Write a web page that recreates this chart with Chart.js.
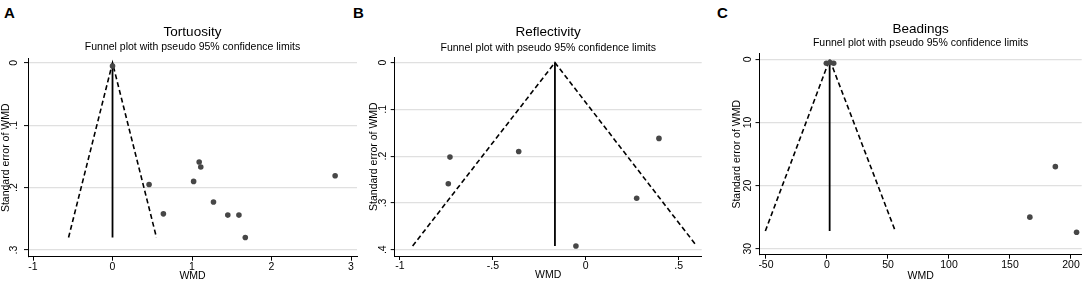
<!DOCTYPE html>
<html>
<head>
<meta charset="utf-8">
<script src="https://cdn.jsdelivr.net/npm/chart.js@4.4.1/dist/chart.umd.min.js"></script>
<style>
  body { margin: 0; width: 1084px; height: 281px; overflow: hidden; background: #fff; position: relative;
         font-family: "Liberation Sans", Arial, sans-serif; }
  .panel { position: absolute; top: 0; height: 281px; }
  .letter { position: absolute; top: 6px; font-weight: bold; font-size: 15px; line-height: 14px; color: #000; }
</style>
</head>
<body>
<div class="letter" style="left:4px">A</div>
<div class="letter" style="left:353px">B</div>
<div class="letter" style="left:717px">C</div>
<div class="panel" style="left:0;width:360px"><canvas id="chartA"></canvas></div>
<div class="panel" style="left:360px;width:360px"><canvas id="chartB"></canvas></div>
<div class="panel" style="left:720px;width:364px"><canvas id="chartC"></canvas></div>
<script>
// --- data ---
// Tortuosity
const tortWMD = [0, 0.46, 0.64, 1.09, 1.11, 1.02, 1.27, 1.45, 1.59, 1.67, 2.80];
const tortSE  = [0.005, 0.195, 0.242, 0.159, 0.167, 0.190, 0.223, 0.244, 0.244, 0.280, 0.181];
const tortFunnelWMD = [-0.553, 0, 0.553];
const tortFunnelSE  = [0.28, 0, 0.28];
const tortPooledWMD = [0, 0];
const tortPooledSE  = [0, 0.28];
const tortXTicks = [-1, 0, 1, 2, 3];
const tortXLabels = ['-1', '0', '1', '2', '3'];
const tortYTicks = [0, 0.1, 0.2, 0.3];
const tortYLabels = ['0', '.1', '.2', '.3'];

// Reflectivity
const reflWMD = [-0.731, -0.740, -0.361, 0.394, 0.274, -0.053];
const reflSE  = [0.202, 0.259, 0.190, 0.162, 0.290, 0.392];
const reflFunnelWMD = [-0.932, -0.166, 0.597];
const reflFunnelSE  = [0.392, 0, 0.392];
const reflPooledWMD = [-0.166, -0.166];
const reflPooledSE  = [0, 0.392];
const reflXTicks = [-1, -0.5, 0, 0.5];
const reflXLabels = ['-1', '-.5', '0', '.5'];
const reflYTicks = [0, 0.1, 0.2, 0.3, 0.4];
const reflYLabels = ['0', '.1', '.2', '.3', '.4'];

// Beadings
const beadWMD = [-0.5, 2.5, 5.5, 187.2, 166.3, 204.6];
const beadSE  = [0.6, 0.5, 0.6, 17.0, 25.0, 27.4];
const beadFunnelWMD = [-50.5, 2.2, 56.0];
const beadFunnelSE  = [27.2, 0, 27.2];
const beadPooledWMD = [2.2, 2.2];
const beadPooledSE  = [0, 27.2];
const beadXTicks = [-50, 0, 50, 100, 150, 200];
const beadXLabels = ['-50', '0', '50', '100', '150', '200'];
const beadYTicks = [0, 10, 20, 30];
const beadYLabels = ['0', '10', '20', '30'];

const subtitleText = 'Funnel plot with pseudo 95% confidence limits';

Chart.defaults.font.family = '"Liberation Sans", Arial, sans-serif';
Chart.defaults.color = '#000';

function pts(xs, ys) {
  return xs.map((x, i) => ({ x: x, y: ys[i] }));
}

function funnelChart(id, d, g) {
  return new Chart(document.getElementById(id), {
    type: 'scatter',
    data: {
      datasets: [
        { data: pts(d.wmd, d.se), backgroundColor: '#474747', borderWidth: 0, pointRadius: 2.8 },
        { data: pts(d.funnelWmd, d.funnelSe), showLine: true, borderColor: '#000', borderWidth: 1.6,
          borderDash: [5, 3], pointRadius: 0 },
        { data: pts(d.pooledWmd, d.pooledSe), showLine: true, borderColor: '#000', borderWidth: 1.8,
          pointRadius: 0 }
      ]
    },
    options: {
      responsive: true,
      maintainAspectRatio: false,
      animation: false,
      layout: { autoPadding: false, padding: { left: g.padLeft, right: g.padRight, top: 0, bottom: 0 } },
      plugins: {
        legend: { display: false },
        tooltip: { enabled: false },
        title: {
          display: true, text: d.title, fullSize: false, color: '#000',
          font: { size: 13.5, weight: 'normal' },
          padding: { top: g.titleTop, bottom: g.titleGap }
        },
        subtitle: {
          display: true, text: subtitleText, fullSize: false, color: '#000',
          font: { size: 10.5, weight: 'normal' },
          padding: { top: 0, bottom: g.subBottom }
        }
      },
      scales: {
        x: {
          type: 'linear', position: 'bottom', min: g.xMin, max: g.xMax,
          afterBuildTicks: s => { s.ticks = d.xTicks.map(v => ({ value: v })); },
          afterFit: s => { s.height = g.xHeight; },
          ticks: { font: { size: 10.5 }, padding: 0, maxRotation: 0, callback: (v, i) => d.xLabels[i] },
          grid: { drawOnChartArea: false, tickLength: 4, tickColor: '#000', tickWidth: 1 },
          border: { color: '#000', width: 1 },
          title: { display: true, text: 'WMD', font: { size: 10.5, lineHeight: 1 }, padding: { top: 0, bottom: g.xTitleBottom } }
        },
        y: {
          type: 'linear', position: 'left', reverse: true, min: g.yMin, max: g.yMax,
          afterBuildTicks: s => { s.ticks = d.yTicks.map(v => ({ value: v })); },
          afterFit: s => { s.width = g.yWidth; },
          ticks: { font: { size: 10.5 }, padding: g.yTickPad, minRotation: 90, maxRotation: 90, crossAlign: 'center',
                   callback: (v, i) => d.yLabels[i] },
          grid: { color: '#e0e0e0', lineWidth: 1.2, tickLength: 4, tickColor: '#000', tickWidth: 1 },
          border: { color: '#000', width: 1 },
          title: { display: true, text: 'Standard error of WMD', font: { size: 10.5, lineHeight: 1 }, padding: { top: 0.5, bottom: 0 } }
        }
      }
    }
  });
}

funnelChart('chartA', {
  title: 'Tortuosity', wmd: tortWMD, se: tortSE,
  funnelWmd: tortFunnelWMD, funnelSe: tortFunnelSE, pooledWmd: tortPooledWMD, pooledSe: tortPooledSE,
  xTicks: tortXTicks, xLabels: tortXLabels, yTicks: tortYTicks, yLabels: tortYLabels
}, {
  padLeft: 0, padRight: 3, yWidth: 28, xHeight: 24.3, yTickPad: 5.5, xTitleBottom: 0,
  titleTop: 24.2, titleGap: 0.9, subBottom: 5.0,
  xMin: -1.063, xMax: 3.075, yMin: -0.0064, yMax: 0.3107
});

funnelChart('chartB', {
  title: 'Reflectivity', wmd: reflWMD, se: reflSE,
  funnelWmd: reflFunnelWMD, funnelSe: reflFunnelSE, pooledWmd: reflPooledWMD, pooledSe: reflPooledSE,
  xTicks: reflXTicks, xLabels: reflXLabels, yTicks: reflYTicks, yLabels: reflYLabels
}, {
  padLeft: 8, padRight: 18.3, yWidth: 26.7, xHeight: 25, yTickPad: 3.2, xTitleBottom: 1,
  titleTop: 23.7, titleGap: 1.7, subBottom: 3.1,
  xMin: -1.0285, xMax: 0.624, yMin: -0.0113, yMax: 0.4134
});

funnelChart('chartC', {
  title: 'Beadings', wmd: beadWMD, se: beadSE,
  funnelWmd: beadFunnelWMD, funnelSe: beadFunnelSE, pooledWmd: beadPooledWMD, pooledSe: beadPooledSE,
  xTicks: beadXTicks, xLabels: beadXLabels, yTicks: beadYTicks, yLabels: beadYLabels
}, {
  padLeft: 11.5, padRight: 2.3, yWidth: 28, xHeight: 26.3, yTickPad: 1.6, xTitleBottom: 0,
  titleTop: 20.9, titleGap: 0, subBottom: 4.2,
  xMin: -55.3, xMax: 208.8, yMin: -0.87, yMax: 30.95
});
</script>
</body>
</html>
